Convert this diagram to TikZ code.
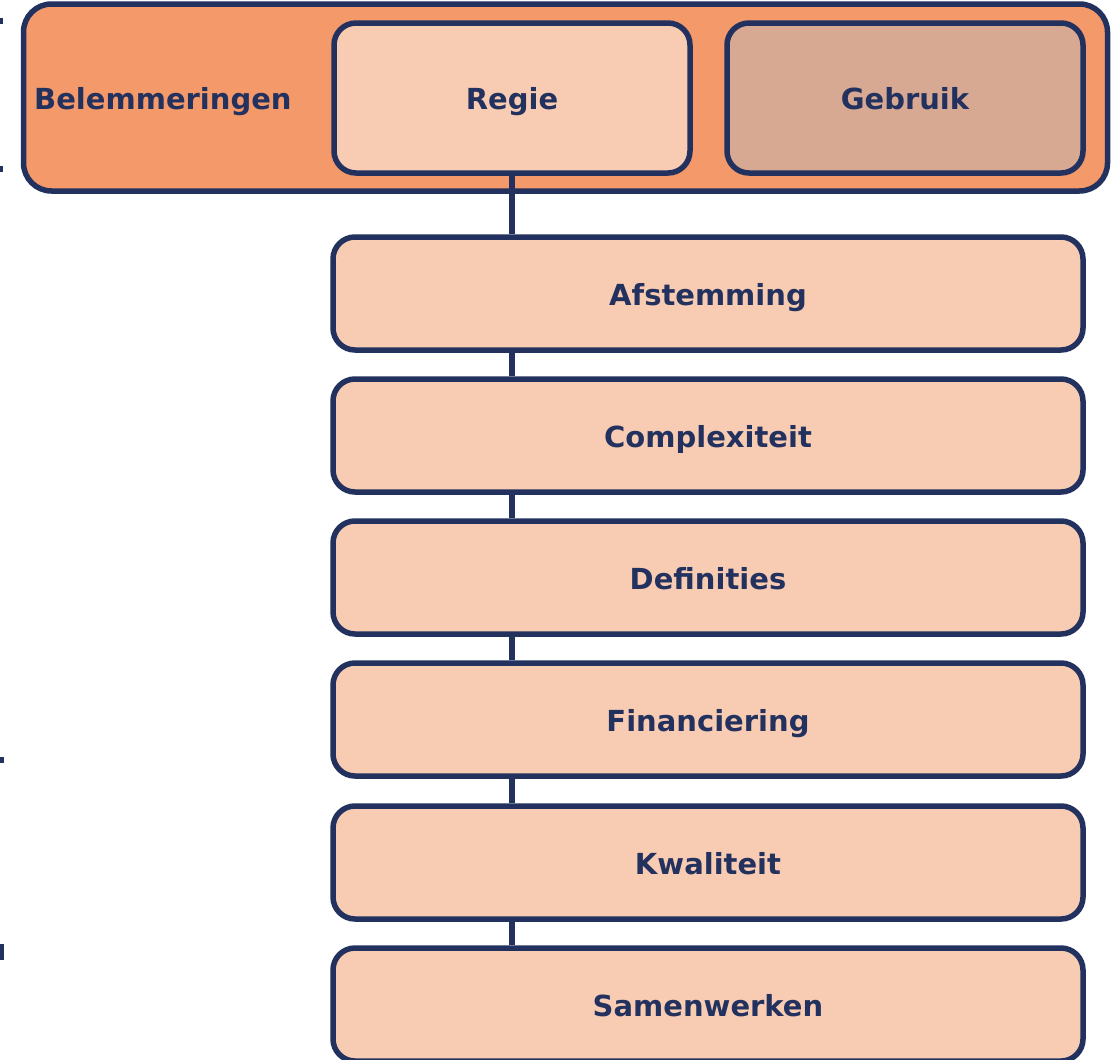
\documentclass[tikz,border=0pt]{standalone}
\usepackage{fontspec}
\setmainfont{DejaVu Sans}
\definecolor{navy}{HTML}{22315E}
\definecolor{outerfill}{HTML}{F4996A}
\definecolor{lightfill}{HTML}{F8CCB3}
\definecolor{gebruikfill}{HTML}{D8A992}
\begin{document}
\begin{tikzpicture}[x=1pt,y=-1pt,
  lbl/.style={font=\fontsize{29}{32}\selectfont\bfseries, text=navy, text height=23pt, text depth=-2pt},
  frame/.style={draw=navy, line width=5.5pt, rounded corners=22pt},
  catbox/.style={frame, fill=lightfill, minimum width=750pt, minimum height=113pt, inner sep=0pt, lbl},
  link/.style={draw=navy, line width=5.5pt}]
\useasboundingbox (0,0) rectangle (1119,1060);
\begin{scope}
\clip (0,0) rectangle (1119,1060);
% outer group
\node[draw=navy, line width=5.5pt, rounded corners=28pt, fill=outerfill, minimum width=1084pt, minimum height=187pt, inner sep=0pt] (outer) at (565.5,97.5) {};
\node[lbl, anchor=west, inner sep=0pt] (belem) at (34,98) {Belemmeringen};
\node[frame, fill=lightfill, minimum width=356pt, minimum height=150pt, inner sep=0pt, lbl] (regie) at (512,98) {Regie};
\node[frame, fill=gebruikfill, minimum width=356pt, minimum height=150pt, inner sep=0pt, lbl] (gebruik) at (905,98) {Gebruik};
% category boxes
\node[catbox] (afst) at (708,293.5) {Afstemming};
\node[catbox] (compl) at (708,435.5) {Complexiteit};
\node[catbox] (defin) at (708,577.5) {Definities};
\node[catbox] (finan) at (708,719.5) {Financiering};
\node[catbox] (kwal) at (708,862.5) {Kwaliteit};
\node[catbox] (samen) at (708,1004.5) {Samenwerken};
% connectors
\draw[link] (regie.south -| 512,0) -- (afst.north -| 512,0);
\draw[link] (afst.south -| 512,0) -- (compl.north -| 512,0);
\draw[link] (compl.south -| 512,0) -- (defin.north -| 512,0);
\draw[link] (defin.south -| 512,0) -- (finan.north -| 512,0);
\draw[link] (finan.south -| 512,0) -- (kwal.north -| 512,0);
\draw[link] (kwal.south -| 512,0) -- (samen.north -| 512,0);
% cropped fragments at the left edge
\fill[navy] (0,18) rectangle (3,24);
\fill[navy] (0,166) rectangle (3,172);
\fill[navy] (0,757) rectangle (4,763);
\fill[navy] (0,944) rectangle (4,960);
\end{scope}
\end{tikzpicture}
\end{document}
